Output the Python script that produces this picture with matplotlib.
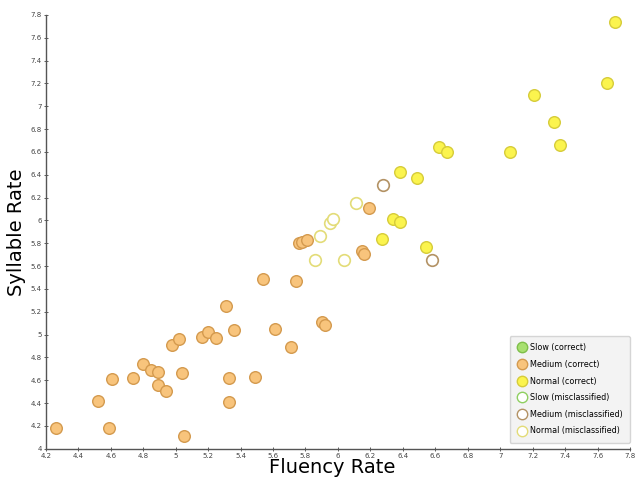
import matplotlib
matplotlib.use("Agg")
import matplotlib.pyplot as plt
from matplotlib.lines import Line2D
import numpy as np

# Medium (correct)
medium_x = [4.26, 4.52, 4.61, 4.59, 4.74, 4.80, 4.85, 4.89, 4.89, 4.94, 4.98, 5.02,
            5.04, 5.05, 5.16, 5.20, 5.25, 5.31, 5.36, 5.33, 5.33, 5.49, 5.54, 5.61,
            5.71, 5.74, 5.76, 5.78, 5.81, 5.90, 5.92, 6.15, 6.16, 6.19]
medium_y = [4.18, 4.42, 4.61, 4.18, 4.62, 4.74, 4.69, 4.67, 4.56, 4.51, 4.91, 4.96,
            4.66, 4.11, 4.98, 5.02, 4.97, 5.25, 5.04, 4.62, 4.41, 4.63, 5.49, 5.05,
            4.89, 5.47, 5.80, 5.81, 5.83, 5.11, 5.08, 5.73, 5.71, 6.11]

# Normal (correct)
normal_x = [7.71, 7.66, 7.21, 7.33, 7.37, 7.06, 6.62, 6.67, 6.38, 6.49, 6.34, 6.38, 6.27, 6.54]
normal_y = [7.74, 7.20, 7.10, 6.86, 6.66, 6.60, 6.64, 6.60, 6.42, 6.37, 6.01, 5.99, 5.84, 5.77]

# Medium (misclassified)
medium_mis_x = [6.28, 6.58]
medium_mis_y = [6.31, 5.65]

# Normal (misclassified)
normal_mis_x = [6.11, 5.95, 5.97, 5.89, 5.86, 6.04]
normal_mis_y = [6.15, 5.98, 6.01, 5.86, 5.65, 5.65]

x_ticks = np.round(np.arange(4.2, 7.81, 0.2), 1)
y_ticks = np.round(np.arange(4.0, 7.81, 0.2), 1)

fig = plt.figure(figsize=(6.37, 4.8), dpi=100)
ax = fig.add_axes([0.072, 0.065, 0.917, 0.904])

s = 70
ax.scatter(medium_x, medium_y, s=s, facecolor="#f8c47c", edgecolor="#d49a4e", linewidth=1.0, zorder=3)
ax.scatter(normal_x, normal_y, s=s, facecolor="#fbf44e", edgecolor="#d6cc3a", linewidth=1.0, zorder=3)
ax.scatter(medium_mis_x, medium_mis_y, s=s, facecolor="white", edgecolor="#b39264", linewidth=1.2, zorder=3)
ax.scatter(normal_mis_x, normal_mis_y, s=s, facecolor="white", edgecolor="#e3dc78", linewidth=1.2, zorder=3)

ax.set_xlim(4.2, 7.8)
ax.set_ylim(4.0, 7.8)
ax.set_xticks(x_ticks)
ax.set_yticks(y_ticks)
ax.set_xticklabels(["%g" % t for t in x_ticks])
ax.set_yticklabels(["%g" % t for t in y_ticks])
ax.tick_params(labelsize=5, colors="#444444", length=3, width=0.6, direction="inout", pad=1.5)

for sp in ["top", "right"]:
    ax.spines[sp].set_visible(False)
for sp in ["left", "bottom"]:
    ax.spines[sp].set_color("#555555")
    ax.spines[sp].set_linewidth(1.0)

ax.set_xlabel("Fluency Rate", fontsize=14, va="center")
ax.xaxis.set_label_coords(0.49, -0.043)
ax.set_ylabel("Syllable Rate", fontsize=14, va="center")
ax.yaxis.set_label_coords(-0.051, 0.5)

handles = [
    Line2D([], [], ls="", marker="o", ms=7.5, mfc="#a8e070", mec="#7fbf4a", label="Slow (correct)"),
    Line2D([], [], ls="", marker="o", ms=7.5, mfc="#f8c47c", mec="#d49a4e", label="Medium (correct)"),
    Line2D([], [], ls="", marker="o", ms=7.5, mfc="#fbf44e", mec="#d6cc3a", label="Normal (correct)"),
    Line2D([], [], ls="", marker="o", ms=7.5, mfc="white", mec="#8fcf60", label="Slow (misclassified)"),
    Line2D([], [], ls="", marker="o", ms=7.5, mfc="white", mec="#b39264", label="Medium (misclassified)"),
    Line2D([], [], ls="", marker="o", ms=7.5, mfc="white", mec="#e3dc78", label="Normal (misclassified)"),
]
leg = ax.legend(handles=handles, loc="lower right", fontsize=5.8, frameon=True,
                facecolor="#f0f0f0", edgecolor="#cccccc", handletextpad=0.4,
                borderpad=0.9, labelspacing=0.95, handlelength=1.2,
                bbox_to_anchor=(1.0, 0.014), borderaxespad=0, fancybox=True)
leg.get_frame().set_linewidth(1.0)

fig.savefig("out.png", dpi=100)
